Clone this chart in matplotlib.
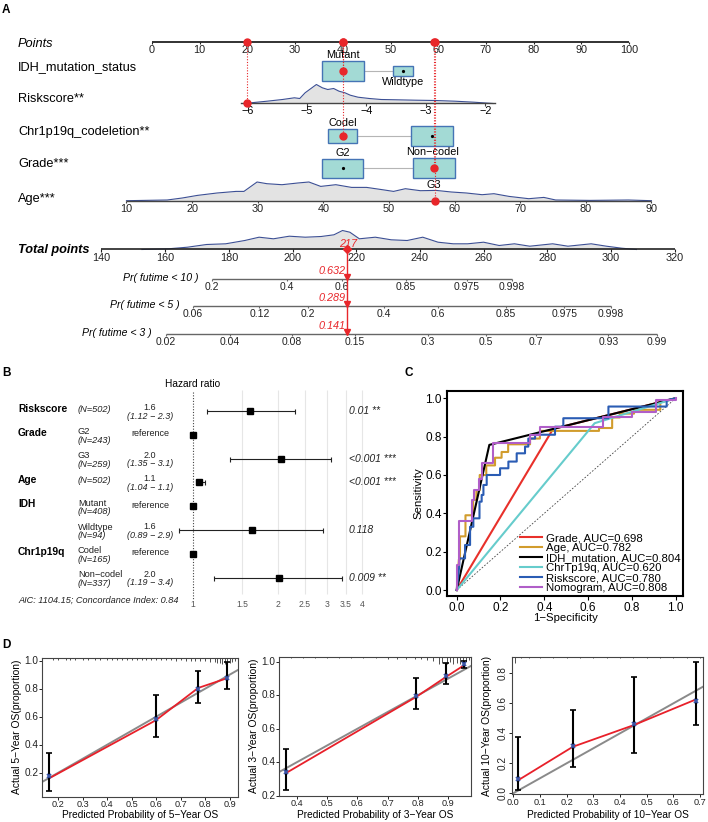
import numpy as np
import matplotlib
matplotlib.use('Agg')
import matplotlib.pyplot as plt
from matplotlib.patches import Rectangle

plt.rcParams['font.family'] = ['Liberation Sans', 'DejaVu Sans']

# ---------------- data: nomogram (panel A) ----------------
points_ticks = [0, 10, 20, 30, 40, 50, 60, 70, 80, 90, 100]

risk_ticks = [-6, -5, -4, -3, -2]
risk_range = [-6.1, -1.83]
risk_grid = [-6.06, -5.67, -5.41, -5.21, -5.12, -5.03, -4.84, -4.74, -4.65, -4.55, -4.46,
             -4.36, -4.27, -4.14, -3.95, -3.75, -3.49, -3.17, -2.84, -2.51, -2.19, -1.87]
risk_dens = [0, 2.3, 4, 5.7, 5, 10.7, 19, 15.7, 14, 15, 12.3,
             10.7, 8.3, 6.3, 5, 4, 3.7, 3.3, 3, 2.3, 1.3, 0]

age_ticks = [10, 20, 30, 40, 50, 60, 70, 80, 90]
age_grid = [10, 16.2, 18.5, 20.8, 23.8, 26.7, 27.9, 29.9, 31.4, 33.7, 36.1, 37.8, 39.6, 41.9,
            44.3, 46.6, 49, 50.7, 52.5, 54.8, 57.2, 59.5, 61.8, 64.2, 66, 68.3, 71.3, 73.6,
            75.4, 80.6, 86.5, 90]
age_dens = [0, 0.7, 2.7, 5.3, 7.7, 9.3, 9.3, 18.7, 17, 16, 17.7, 18.7, 14.3, 16,
            13.3, 13.3, 11, 9.3, 12, 10, 10.3, 8.7, 7.7, 6, 7, 4.3, 2, 3.3,
            0.7, 0.3, 0.7, 0]

total_ticks = [140, 160, 180, 200, 220, 240, 260, 280, 300, 320]
total_grid = [152.7, 161, 167, 173, 179, 185, 189.5, 194, 199, 204, 209, 213, 215.7, 218, 221,
              226, 231, 236, 240.9, 245.7, 250.5, 255, 260, 264.9, 269.7, 274.5, 281.7, 286.5,
              293.8, 298.6, 303.4, 308]
total_dens = [0, 0.7, 2.3, 5, 5.7, 9, 12.3, 10.7, 13.3, 12.3, 13, 14.7, 19, 17.3, 10.7,
              12.3, 9.7, 9, 12.3, 7.3, 5.7, 5.7, 7.3, 4, 5.7, 3.3, 5.7, 3.3,
              5.7, 3.3, 1.3, 0]

idh_levels = ['Mutant', 'Wildtype']
idh_points = [40.0, 52.7]
idh_n = [408, 94]
codel_levels = ['Codel', 'Non\u2212codel']
codel_points = [40.0, 58.8]
codel_n = [165, 337]
grade_levels = ['G2', 'G3']
grade_points = [40.0, 59.1]
grade_n = [243, 259]

obs_idh, obs_risk, obs_codel, obs_grade, obs_age = 0, -6.0, 0, 1, 57
obs_total = 217

pr10_ticks = [0.2, 0.4, 0.6, 0.85, 0.975, 0.998]
pr10_at = [174.8, 198.2, 215.5, 235.6, 254.7, 269.0]
pr5_ticks = [0.06, 0.12, 0.2, 0.4, 0.6, 0.85, 0.975, 0.998]
pr5_at = [168.8, 189.6, 204.9, 228.8, 245.6, 266.9, 285.4, 300.0]
pr3_ticks = [0.02, 0.04, 0.08, 0.15, 0.3, 0.5, 0.7, 0.93, 0.99]
pr3_at = [160.2, 180.4, 199.9, 219.6, 242.6, 260.7, 276.5, 299.2, 314.5]
pr_values = ['0.632', '0.289', '0.141']

# ---------------- data: forest (panel B) ----------------
forest_var = ['Riskscore', 'Grade', '', 'Age', 'IDH', '', 'Chr1p19q', '']
forest_level = ['', 'G2', 'G3', '', 'Mutant', 'Wildtype', 'Codel', 'Non\u2212codel']
forest_n = ['(N=502)', '(N=243)', '(N=259)', '(N=502)', '(N=408)', '(N=94)', '(N=165)', '(N=337)']
hr_mid = [1.6, 1.0, 2.05, 1.05, 1.0, 1.62, 1.0, 2.03]
hr_lo = [1.12, np.nan, 1.35, 1.04, np.nan, 0.89, np.nan, 1.19]
hr_hi = [2.3, np.nan, 3.1, 1.1, np.nan, 2.9, np.nan, 3.4]
hr_text = ['1.6', 'reference', '2.0', '1.1', 'reference', '1.6', 'reference', '2.0']
ci_text = ['(1.12 \u2212 2.3)', '', '(1.35 \u2212 3.1)', '(1.04 \u2212 1.1)', '',
           '(0.89 \u2212 2.9)', '', '(1.19 \u2212 3.4)']
p_text = ['0.01 **', '', '<0.001 ***', '<0.001 ***', '', '0.118', '', '0.009 **']
forest_ticks = [1, 1.5, 2, 2.5, 3, 3.5, 4]

# ---------------- data: ROC (panel C) ----------------
roc_grade_x = [0, 0.44, 1]
roc_grade_y = [0, 0.84, 1]
roc_age_x = [0, 0.01, 0.015, 0.015, 0.04, 0.04, 0.075, 0.075, 0.09, 0.09, 0.105, 0.105, 0.135, 0.135,
             0.175, 0.175, 0.205, 0.205, 0.235, 0.235, 0.335, 0.335, 0.38, 0.38, 0.65, 0.65, 0.71,
             0.71, 0.745, 0.745, 0.81, 0.81, 0.93, 0.93, 1]
roc_age_y = [0, 0.16, 0.16, 0.28, 0.28, 0.39, 0.39, 0.47, 0.47, 0.52, 0.52, 0.6, 0.6, 0.65,
             0.65, 0.69, 0.69, 0.72, 0.72, 0.76, 0.76, 0.79, 0.79, 0.83, 0.83, 0.845, 0.845,
             0.9, 0.9, 0.92, 0.92, 0.94, 0.94, 0.98, 1]
roc_idh_x = [0, 0.149, 1]
roc_idh_y = [0, 0.757, 1]
roc_chr_x = [0, 0.63, 1]
roc_chr_y = [0, 0.87, 1]
roc_risk_x = [0, 0.012, 0.012, 0.038, 0.038, 0.061, 0.061, 0.076, 0.076, 0.104, 0.104, 0.114, 0.114,
              0.122, 0.122, 0.137, 0.137, 0.198, 0.198, 0.236, 0.236, 0.274, 0.274, 0.312, 0.312,
              0.327, 0.327, 0.358, 0.358, 0.449, 0.449, 0.487, 0.487, 0.693, 0.693, 0.959, 0.959, 1]
roc_risk_y = [0, 0.13, 0.165, 0.165, 0.235, 0.235, 0.33, 0.33, 0.374, 0.374, 0.461, 0.461, 0.496,
              0.496, 0.548, 0.548, 0.6, 0.6, 0.635, 0.635, 0.67, 0.67, 0.713, 0.713, 0.748,
              0.748, 0.79, 0.79, 0.81, 0.81, 0.852, 0.852, 0.896, 0.896, 0.957, 0.957, 0.99, 1]
roc_nomo_x = [0, 0, 0.012, 0.012, 0.07, 0.07, 0.08, 0.08, 0.1, 0.1, 0.115, 0.115, 0.165, 0.165,
              0.335, 0.335, 0.38, 0.38, 0.67, 0.67, 0.8, 0.8, 0.91, 0.91, 1, 1]
roc_nomo_y = [0, 0.13, 0.13, 0.36, 0.36, 0.47, 0.47, 0.52, 0.52, 0.58, 0.58, 0.66, 0.66, 0.765,
              0.765, 0.81, 0.81, 0.85, 0.85, 0.9, 0.9, 0.93, 0.93, 0.99, 0.99, 1]
roc_labels = ['Grade, AUC=0.698', 'Age, AUC=0.782', 'IDH_mutation, AUC=0.804',
              'ChrTp19q, AUC=0.620', 'Riskscore, AUC=0.780', 'Nomogram, AUC=0.808']
roc_colors = ['#e8302a', '#d19c2c', '#000000', '#66cccc', '#2a5cb4', '#b05ec8']

# ---------------- data: calibration (panel D) ----------------
cal5_pred = [0.163, 0.599, 0.771, 0.89]
cal5_obs = [0.16, 0.575, 0.805, 0.875]
cal5_corr = [0.176, 0.584, 0.798, 0.879]
cal5_lo = [0.071, 0.453, 0.70, 0.796]
cal5_hi = [0.339, 0.755, 0.929, 0.989]
rug5_x = [0.18, 0.2, 0.23, 0.25, 0.27, 0.3, 0.32, 0.35, 0.37, 0.4, 0.42, 0.44, 0.46, 0.48, 0.5,
          0.52, 0.54, 0.56, 0.58, 0.6, 0.62, 0.64, 0.66, 0.68, 0.7, 0.72, 0.74, 0.76, 0.78, 0.8,
          0.82, 0.84, 0.85, 0.86, 0.87, 0.88, 0.89, 0.9, 0.91, 0.92]
rug5_h = [2, 2, 2, 2, 2, 2, 2, 2, 2, 2, 2, 2, 2, 2, 2, 2, 2, 2, 2, 2, 2, 2, 2, 3, 2, 3, 3, 3, 3, 3,
          4, 4, 5, 5, 6, 6, 6, 5, 4, 3]

cal3_pred = [0.364, 0.794, 0.893, 0.953]
cal3_obs = [0.335, 0.79, 0.91, 0.98]
cal3_corr = [0.343, 0.795, 0.915, 0.984]
cal3_lo = [0.234, 0.716, 0.865, 0.96]
cal3_hi = [0.479, 0.90, 0.994, 1.004]
rug3_x = [0.38, 0.42, 0.46, 0.5, 0.54, 0.58, 0.62, 0.66, 0.7, 0.73, 0.76, 0.79, 0.81, 0.83, 0.85,
          0.87, 0.88, 0.895, 0.905, 0.915, 0.93, 0.94, 0.95, 0.96, 0.967]
rug3_h = [1.5, 1.5, 1.5, 1.5, 1.5, 1.5, 1.5, 1.5, 2, 2, 2, 2, 2.5, 3, 4,
          7, 6, 7, 5, 7, 6, 7, 5, 4, 3]

cal10_pred = [0.0165, 0.223, 0.452, 0.683]
cal10_obs = [0.085, 0.31, 0.455, 0.625]
cal10_corr = [0.093, 0.315, 0.46, 0.615]
cal10_lo = [0.022, 0.173, 0.27, 0.455]
cal10_hi = [0.377, 0.555, 0.777, 0.877]
rug10_x = [0.006, 0.03, 0.06, 0.1, 0.15, 0.2, 0.25, 0.3, 0.35, 0.4, 0.45, 0.5, 0.55, 0.6, 0.65, 0.7]
rug10_h = [6, 1, 1, 1, 1, 1, 1, 1, 1, 1, 1, 1, 1, 1, 1, 1]

# ---------------- figure ----------------
W, H = 708, 822
fig = plt.figure(figsize=(W / 100, H / 100), dpi=100)


def px_axes(x0, y0, x1, y1):
    return fig.add_axes([x0 / W, 1 - y1 / H, (x1 - x0) / W, (y1 - y0) / H])


RED = '#e8262a'

# ================= Panel A: nomogram =================
PX = 4.77  # pixels per nomogram point
axA = px_axes(0, 0, W, 350)
axA.set_xlim(-152 / PX, (W - 152) / PX)
axA.set_ylim(350, 0)
axA.axis('off')


def risk_pts(v):
    return 20 + (np.asarray(v, float) + 6) * 12.47


def age_pts(v):
    return -5.35 + (np.asarray(v, float) - 10) * 1.3757


def total_pts(v):
    return -10.59 + (np.asarray(v, float) - 140) * 0.6675


y_points, y_idh, y_risk, y_codel, y_grade, y_age = 42, 71, 103.5, 136, 168.5, 200.7
y_total, y_pr10, y_pr5, y_pr3 = 249.5, 278.7, 306, 333.7

lab_tr = axA.get_yaxis_transform()
left_labels = [('Points', y_points + 2, 'italic', 'normal'),
               ('IDH_mutation_status', 67.5, 'normal', 'normal'),
               ('Riskscore**', 99.5, 'normal', 'normal'),
               ('Chr1p19q_codeletion**', 132, 'normal', 'normal'),
               ('Grade***', 164, 'normal', 'normal'),
               ('Age***', 199, 'normal', 'normal'),
               ('Total points', 250, 'italic', 'bold')]
for txt, yy, st, wt in left_labels:
    axA.text(18 / W, yy, txt, transform=lab_tr, fontsize=9.2, style=st, weight=wt,
             ha='left', va='center')

TICK_FS = 7.8


def scale_axis(xpos, labels, y, color, lw, fs=TICK_FS):
    axA.plot([xpos[0], xpos[-1]], [y, y], color=color, lw=lw, solid_capstyle='butt')
    axA.vlines(xpos, y, y + 2.5, color=color, lw=0.8)
    for xp, lb in zip(xpos, labels):
        axA.text(xp, y + 8, lb, fontsize=fs, ha='center', va='center', color='#222')


def density(xpos, h, y):
    axA.fill_between(xpos, y - np.asarray(h), y, color='#e3e3e3', lw=0)
    axA.plot(xpos, y - np.asarray(h), color='#3c4f94', lw=0.8)


# points axis
scale_axis(points_ticks, [str(t) for t in points_ticks], y_points, '#222', 1.3)

# riskscore
density(risk_pts(risk_grid), risk_dens, y_risk)
axA.plot(risk_pts(risk_range), [y_risk, y_risk], color='#444', lw=1.0)
axA.vlines(risk_pts(risk_ticks), y_risk, y_risk + 2.5, color='#444', lw=0.8)
for t in risk_ticks:
    axA.text(risk_pts(t), y_risk + 8, '\u2212%d' % abs(t), fontsize=TICK_FS, ha='center', va='center')

# age
density(age_pts(age_grid), age_dens, y_age)
scale_axis(age_pts(age_ticks), [str(t) for t in age_ticks], y_age, '#444', 1.0)


def box_row(levels, pts, ns, chosen, y):
    nmax = max(ns)
    ws = [42 * np.sqrt(n / nmax) / PX for n in ns]
    hs = [20 * np.sqrt(n / nmax) for n in ns]
    axA.plot([pts[0] + ws[0] / 2, pts[1] - ws[1] / 2], [y, y], color='#b5b5b5', lw=0.8, zorder=1)
    for i in range(2):
        axA.add_patch(Rectangle((pts[i] - ws[i] / 2, y - hs[i] / 2), ws[i], hs[i],
                                facecolor='#a3dad5', edgecolor='#4574b5', lw=1.0, zorder=2))
        if i == chosen:
            axA.plot(pts[i], y, 'o', color=RED, ms=5, zorder=4)
        else:
            axA.plot(pts[i], y, 'o', color='k', ms=1.3, zorder=3)
        if i == 0:
            axA.text(pts[i], y - hs[i] / 2 - 6, levels[i], fontsize=7.8, ha='center', va='center')
        else:
            axA.text(pts[i], y + hs[i] / 2 + 6, levels[i], fontsize=7.8, ha='center', va='center')


box_row(idh_levels, idh_points, idh_n, obs_idh, y_idh)
box_row(codel_levels, codel_points, codel_n, obs_codel, y_codel)
box_row(grade_levels, grade_points, grade_n, obs_grade, y_grade)

# observation markers
obs_list = [(idh_points[obs_idh], y_idh), (float(risk_pts(obs_risk)), y_risk),
            (codel_points[obs_codel], y_codel), (grade_points[obs_grade], y_grade),
            (float(age_pts(obs_age)), y_age)]
for xo, yo in obs_list:
    axA.plot([xo, xo], [y_points, yo], color=RED, lw=0.8, ls=(0, (1, 1.5)), zorder=3)
    axA.plot(xo, y_points, 'o', color=RED, ms=5, zorder=5)
axA.plot(float(risk_pts(obs_risk)), y_risk, 'o', color=RED, ms=5, zorder=5)
axA.plot(float(age_pts(obs_age)), y_age, 'o', color=RED, ms=5, zorder=5)

# total points
density(total_pts(total_grid), total_dens, y_total)
scale_axis(total_pts(total_ticks), [str(t) for t in total_ticks], y_total, '#222', 1.2)

# probability axes
pr_axes = [(pr10_ticks, pr10_at, y_pr10, 'Pr( futime < 10 )'),
           (pr5_ticks, pr5_at, y_pr5, 'Pr( futime < 5 )'),
           (pr3_ticks, pr3_at, y_pr3, 'Pr( futime < 3 )')]
for ticks, at, yy, name in pr_axes:
    xp = total_pts(at)
    scale_axis(xp, [str(t) for t in ticks], yy, '#666', 1.0, fs=7.5)
    axA.text(xp[0] - 14 / PX, yy - 1, name, fontsize=7.6, style='italic', ha='right', va='center')

xt = float(total_pts(obs_total))
axA.plot([xt, xt], [y_total, y_pr3], color=RED, lw=1.0, zorder=5)
axA.plot(xt, y_total, 'D', color=RED, ms=4, zorder=6)
axA.text(xt + 1.5 / PX, y_total - 5.5, str(obs_total), color=RED, fontsize=7.8, style='italic',
         ha='center', va='center')
for (ticks, at, yy, name), val in zip(pr_axes, pr_values):
    axA.plot(xt, yy - 1.5, 'v', color=RED, ms=5, zorder=6)
    axA.text(xt - 1.5 / PX, yy - 8, val, color=RED, fontsize=7.8, style='italic',
             ha='right', va='center')

# ================= Panel B: forest =================
axB = px_axes(0, 375, 420, 612)
axB.set_xscale('log')
axB.set_xlim(np.exp(-193 / 122), np.exp((420 - 193) / 122))
axB.set_ylim(8.445, -1.513)
axB.axis('off')
rows = np.arange(len(forest_var))
ROW = 23.8  # px per row
btr = axB.get_yaxis_transform()

axB.vlines(forest_ticks[1:], -0.9, 7.7, color='#e6e6e6', lw=0.8, zorder=0)
axB.vlines(1, -0.8, 7.95, color='#444', lw=0.8, ls=(0, (1, 1.5)), zorder=1)
axB.text(1, -1.13, 'Hazard ratio', fontsize=7.3, ha='center', va='center')

for i in rows:
    if forest_var[i]:
        axB.text(18 / 420, i - 2 / ROW, forest_var[i], transform=btr, fontsize=7.4,
                 weight='bold', ha='left', va='center')
    if forest_level[i]:
        axB.text(78 / 420, i - 3 / ROW, forest_level[i], transform=btr, fontsize=6.7,
                 ha='left', va='center', color='#222')
        axB.text(78 / 420, i + 5.5 / ROW, forest_n[i], transform=btr, fontsize=6.7,
                 style='italic', ha='left', va='center', color='#222')
    else:
        axB.text(78 / 420, i - 2 / ROW, forest_n[i], transform=btr, fontsize=6.7,
                 style='italic', ha='left', va='center', color='#222')
    if ci_text[i]:
        axB.text(150 / 420, i - 3.5 / ROW, hr_text[i], transform=btr, fontsize=6.5,
                 ha='center', va='center', color='#222')
        axB.text(150 / 420, i + 5 / ROW, ci_text[i], transform=btr, fontsize=6.5,
                 style='italic', ha='center', va='center', color='#222')
    else:
        axB.text(150 / 420, i - 1 / ROW, hr_text[i], transform=btr, fontsize=6.5,
                 ha='center', va='center', color='#222')
    if p_text[i]:
        axB.text(349 / 420, i, p_text[i], transform=btr, fontsize=7.5, style='italic',
                 ha='left', va='center', color='#222')

mid = np.array(hr_mid)
lo = np.array(hr_lo)
hi = np.array(hr_hi)
has_ci = ~np.isnan(lo)
axB.errorbar(mid[has_ci], rows[has_ci], xerr=[mid[has_ci] - lo[has_ci], hi[has_ci] - mid[has_ci]],
             fmt='none', ecolor='#222', elinewidth=0.8, capsize=1.8, capthick=0.8, zorder=2)
axB.plot(mid, rows, 's', color='k', ms=5, zorder=3)
for t in forest_ticks:
    axB.text(t, 8.11, str(t), fontsize=6.2, color='#555', ha='center', va='center')
axB.text(18 / 420, 7.95, 'AIC: 1104.15; Concordance Index: 0.84', transform=btr,
         fontsize=6.6, style='italic', ha='left', va='center', color='#222')

# ================= Panel C: ROC =================
axC = px_axes(447.3, 391, 683.3, 596)
axC.set_xlim(-0.043, 1.035)
axC.set_ylim(-0.031, 1.038)
axC.plot([0, 1], [0, 1], color='#444', lw=0.6, ls=(0, (2, 2)))
roc_x = [roc_grade_x, roc_age_x, roc_idh_x, roc_chr_x, roc_risk_x, roc_nomo_x]
roc_y = [roc_grade_y, roc_age_y, roc_idh_y, roc_chr_y, roc_risk_y, roc_nomo_y]
for xs, ys, lb, c in zip(roc_x, roc_y, roc_labels, roc_colors):
    axC.plot(xs, ys, color=c, lw=1.5, label=lb)
for s in axC.spines.values():
    s.set_linewidth(1.5)
ticks01 = [0, 0.2, 0.4, 0.6, 0.8, 1.0]
axC.set_xticks(ticks01)
axC.set_yticks(ticks01)
axC.set_xticklabels(['%.1f' % t for t in ticks01])
axC.set_yticklabels(['%.1f' % t for t in ticks01])
axC.tick_params(labelsize=8.5, length=3, width=0.8, pad=1)
axC.set_xlabel('1\u2212Specificity', fontsize=8.2)
axC.set_ylabel('Sensitivity', fontsize=8.2)
axC.xaxis.set_label_coords(0.5, -0.085)
axC.yaxis.set_label_coords(-0.1, 0.5)
axC.legend(loc='lower right', fontsize=8.2, frameon=False, handlelength=2.0,
           labelspacing=0.0, borderpad=0.1, handletextpad=0.3, borderaxespad=0.15)

# ================= Panel D: calibration =================
cal_sets = [
    ((42.3, 657.7, 238.3, 796.7), (0.135, 0.935), (0.029, 1.021),
     [0.2, 0.3, 0.4, 0.5, 0.6, 0.7, 0.8, 0.9], [0.2, 0.4, 0.6, 0.8, 1.0],
     cal5_pred, cal5_obs, cal5_corr, cal5_lo, cal5_hi, rug5_x, rug5_h, '5', 0),
    ((279.3, 656.7, 470.7, 795.7), (0.342, 0.974), (0.2, 1.03),
     [0.4, 0.5, 0.6, 0.7, 0.8, 0.9], [0.2, 0.4, 0.6, 0.8, 1.0],
     cal3_pred, cal3_obs, cal3_corr, cal3_lo, cal3_hi, rug3_x, rug3_h, '3', 0),
    ((511.7, 657.3, 703.3, 794.3), (-0.006, 0.712), (-0.007, 0.907),
     [0.0, 0.1, 0.2, 0.3, 0.4, 0.5, 0.6, 0.7], [0.0, 0.2, 0.4, 0.6, 0.8],
     cal10_pred, cal10_obs, cal10_corr, cal10_lo, cal10_hi, rug10_x, rug10_h, '10', 90),
]
for box, xl, yl, xt_, yt_, pred, obs, corr, elo, ehi, rx, rh, yr, rot in cal_sets:
    ax = px_axes(*box)
    hpx = box[3] - box[1]
    ax.set_xlim(*xl)
    ax.set_ylim(*yl)
    ax.plot([-0.1, 1.1], [-0.1, 1.1], color='#8a8a8a', lw=1.4, zorder=2)
    ax.plot(pred, obs, color='#e8202a', lw=1.3, zorder=3)
    pred_a = np.array(pred)
    corr_a = np.array(corr)
    ax.errorbar(pred_a, corr_a, yerr=[corr_a - np.array(elo), np.array(ehi) - corr_a], fmt='none',
                ecolor='k', elinewidth=1.5, capsize=2.2, capthick=1.2, zorder=4)
    ax.plot(pred, corr, 'x', color='#3a55a8', ms=3.5, mew=1.3, zorder=5)
    ax.vlines(rx, 1 - np.array(rh) / hpx, 1, transform=ax.get_xaxis_transform(),
              color='#333', lw=0.6)
    ax.set_xticks(xt_)
    ax.set_yticks(yt_)
    ax.set_xticklabels(['%.1f' % t for t in xt_])
    ax.set_yticklabels(['%.1f' % t for t in yt_], rotation=rot, va='center')
    ax.tick_params(labelsize=7.2, length=2.2, width=0.7, pad=0.5, colors='#222')
    ax.tick_params(axis='x', labelsize=6.6, pad=0.2)
    for s in ax.spines.values():
        s.set_linewidth(0.8)
        s.set_color('#444')
    ax.set_xlabel('Predicted Probability of %s\u2212Year OS' % yr, fontsize=7.3)
    ax.set_ylabel('Actual %s\u2212Year OS(proportion)' % yr, fontsize=7.4)
    ax.xaxis.set_label_coords(0.5, -(809.5 - box[3]) / hpx)
    ax.yaxis.set_label_coords(-0.105, 0.5)

# panel letters
for lt, x, y in [('A', 6, 10), ('B', 6.7, 373.3), ('C', 408.3, 373.3), ('D', 6.7, 645)]:
    fig.text(x / W, 1 - y / H, lt, fontsize=8.5, weight='bold', ha='center', va='center')

fig.savefig('out.png', dpi=100)
